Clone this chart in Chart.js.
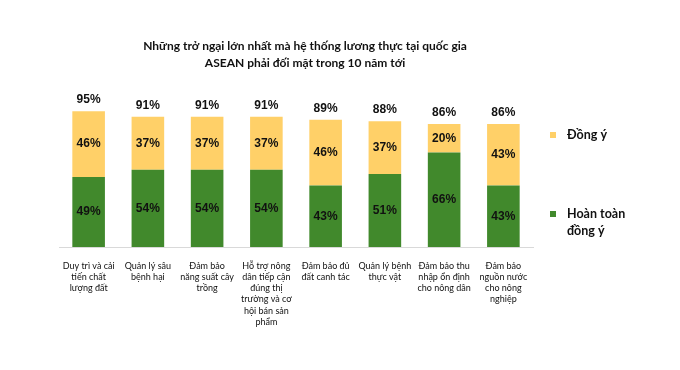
<!DOCTYPE html>
<html>
<head>
<meta charset="utf-8">
<script src="https://cdn.jsdelivr.net/npm/chart.js@4.4.1/dist/chart.umd.min.js"></script>
<style>
  html, body { margin: 0; padding: 0; background: #ffffff; }
  #wrap { width: 680px; height: 370px; position: relative; }
</style>
</head>
<body>
<div id="wrap"><canvas id="c" width="680" height="370"></canvas></div>
<script>
const titleLines = ["Những trở ngại lớn nhất mà hệ thống lương thực tại quốc gia", "ASEAN phải đối mặt trong 10 năm tới"];
const categories = [
  ["Duy trì và cải", "tiến chất", "lượng đất"],
  ["Quản lý sâu", "bệnh hại"],
  ["Đảm bảo", "năng suất cây", "trồng"],
  ["Hỗ trợ nông", "dân tiếp cận", "đúng thị", "trường và cơ", "hội bán sản", "phẩm"],
  ["Đảm bảo đủ", "đất canh tác"],
  ["Quản lý bệnh", "thực vật"],
  ["Đảm bảo thu", "nhập ổn định", "cho nông dân"],
  ["Đảm bảo", "nguồn nước", "cho nông", "nghiệp"]
];
const fullyAgree = [49, 54, 54, 54, 43, 51, 66, 43];
const agree = [46, 37, 37, 37, 46, 37, 20, 43];
const totals = [95, 91, 91, 91, 89, 88, 86, 86];
const seriesNames = ["Hoàn toàn đồng ý", "Đồng ý"];
const legendLines = [["Đồng ý"], ["Hoàn toàn", "đồng ý"]];

const GREEN = "#41892c";
const YELLOW = "#ffd068";

const labelPlugin = {
  id: "labels",
  afterDatasetsDraw(chart) {
    const ctx = chart.ctx;
    ctx.save();
    ctx.fillStyle = "#111";
    ctx.font = "bold 12px 'Liberation Sans', Arial, sans-serif";
    ctx.textAlign = "center";
    ctx.textBaseline = "middle";
    chart.data.datasets.forEach((ds, di) => {
      const meta = chart.getDatasetMeta(di);
      meta.data.forEach((bar, i) => {
        const y = (bar.y + bar.base) / 2;
        ctx.fillText(ds.data[i] + "%", bar.x, y);
      });
    });
    const top = chart.getDatasetMeta(1);
    top.data.forEach((bar, i) => {
      ctx.fillText(totals[i] + "%", bar.x, bar.y - 11);
    });
    ctx.restore();
  }
};

const decoPlugin = {
  id: "deco",
  afterDraw(chart) {
    const ctx = chart.ctx;
    const area = chart.chartArea;
    ctx.save();
    // title
    ctx.fillStyle = "#111";
    ctx.font = "bold 12px Lato, 'Open Sans', sans-serif";
    ctx.textAlign = "center";
    ctx.textBaseline = "middle";
    const cx = (area.left + area.right) / 2 + 9;
    ctx.fillText(titleLines[0], cx, 46);
    ctx.fillText(titleLines[1], cx, 63);
    // legend
    const items = [
      { color: YELLOW, lines: legendLines[0], y: 135 },
      { color: GREEN, lines: legendLines[1], y: 214 }
    ];
    ctx.textAlign = "left";
    ctx.font = "bold 12.5px Lato, 'Open Sans', sans-serif";
    items.forEach(it => {
      ctx.fillStyle = it.color;
      ctx.fillRect(550, it.y - 3, 6, 6);
      ctx.fillStyle = "#111";
      it.lines.forEach((t, k) => ctx.fillText(t, 567, it.y + k * 17));
    });
    ctx.restore();
  }
};

new Chart(document.getElementById("c"), {
  type: "bar",
  data: {
    labels: categories,
    datasets: [
      { label: seriesNames[0], data: fullyAgree, backgroundColor: GREEN, barPercentage: 0.55, categoryPercentage: 1 },
      { label: seriesNames[1], data: agree, backgroundColor: YELLOW, barPercentage: 0.55, categoryPercentage: 1 }
    ]
  },
  options: {
    responsive: false,
    animation: false,
    events: [],
    layout: { padding: { left: 59, right: 147, top: 104, bottom: 0 } },
    plugins: { legend: { display: false }, title: { display: false }, tooltip: { enabled: false } },
    scales: {
      x: {
        stacked: true,
        grid: { display: false, drawTicks: false },
        border: { display: true, color: "#d9d9d9", width: 1 },
        ticks: {
          color: "#111",
          font: { family: "Lato, 'Open Sans', sans-serif", size: 9, lineHeight: 1.25 },
          padding: 13,
          maxRotation: 0,
          autoSkip: false
        },
        afterFit(scale) { scale.height = 123; }
      },
      y: {
        stacked: true,
        display: false,
        min: 0,
        max: 100
      }
    }
  },
  plugins: [labelPlugin, decoPlugin]
});
</script>
</body>
</html>
